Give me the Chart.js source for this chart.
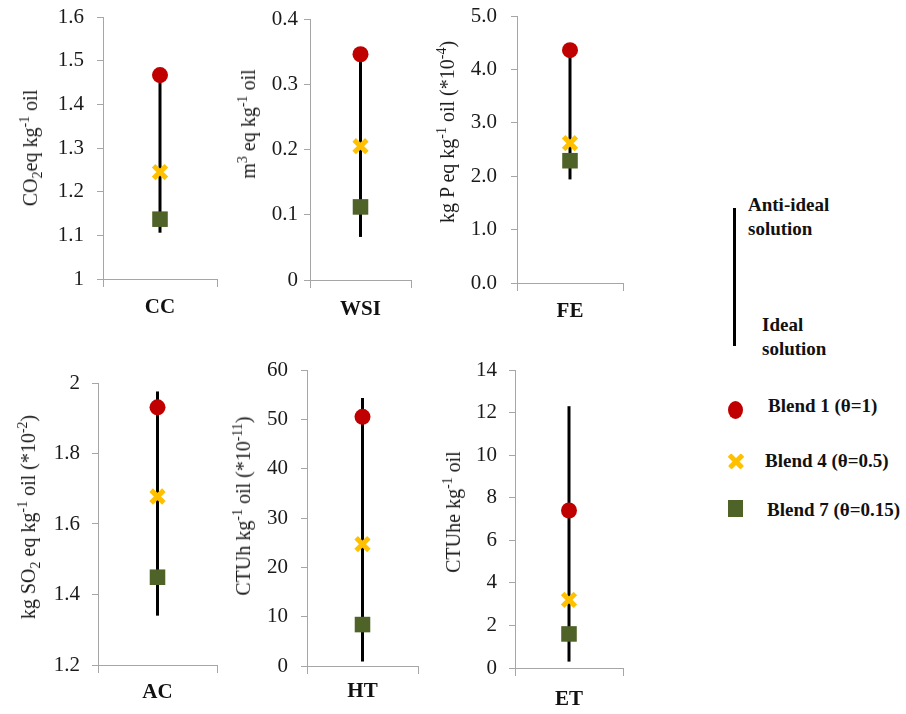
<!DOCTYPE html>
<html>
<head>
<meta charset="utf-8">
<title>Blend impact ranges</title>
<script src="https://cdn.jsdelivr.net/npm/chart.js@4.4.0/dist/chart.umd.min.js"></script>
<style>
  body { margin: 0; background: #fff; }
  #page { position: relative; width: 906px; height: 714px; overflow: hidden;
          font-family: "Liberation Serif", "Times New Roman", serif; color: #1a1a1a; }
  #page canvas { position: absolute; }
  .ytitle { position: absolute; white-space: nowrap; font-size: 20px; line-height: 1;
            transform: translate(-50%, -50%) rotate(-90deg); }
  .ytitle sup, .ytitle sub { font-size: 14px; line-height: 0; }
  .lg { position: absolute; font-weight: bold; font-size: 19px; line-height: 24px; color: #111; white-space: nowrap; }
  .mk { position: absolute; }
  .cross { position: absolute; width: 16px; height: 16px; }
  .cross i { position: absolute; left: -1px; top: 6px; width: 18px; height: 4.5px; background: #FFC000; border-radius: 1px; }
  .cross i:first-child { transform: rotate(45deg); }
  .cross i:last-child { transform: rotate(-45deg); }
</style>
</head>
<body>
<div id="page">
  <!-- legend -->
  <div class="mk" style="left:733px; top:208px; width:3px; height:138px; background:#000;"></div>
  <div class="lg" style="left:748px; top:193px;">Anti-ideal<br>solution</div>
  <div class="lg" style="left:762px; top:313px;">Ideal<br>solution</div>

  <div class="mk" style="left:728px; top:401px; width:15px; height:18px; border-radius:50%; background:#C00000;"></div>
  <div class="lg" style="left:768px; top:394px;">Blend 1 (&theta;=1)</div>

  <div class="cross" style="left:728px; top:453px;"><i></i><i></i></div>
  <div class="lg" style="left:765px; top:449px;">Blend 4 (&theta;=0.5)</div>

  <div class="mk" style="left:728px; top:500px; width:15px; height:17px; background:#4F6228;"></div>
  <div class="lg" style="left:767px; top:498px;">Blend 7 (&theta;=0.15)</div>
</div>

<script>
// impact categories, one small chart each
const categories = ['CC', 'WSI', 'FE', 'AC', 'HT', 'ET'];

// ends of the black range line (ideal = bottom, anti-ideal = top)
const idealSolution     = [1.106, 0.066, 1.94, 1.34, 0.9, 0.3];
const antiIdealSolution = [1.467, 0.346, 4.36, 1.976, 54.3, 12.3];

// blends
const blend1 = [1.467, 0.346, 4.36, 1.931, 50.5, 7.4];
const blend4 = [1.245, 0.205, 2.62, 1.678, 24.7, 3.2];
const blend7 = [1.137, 0.112, 2.29, 1.449, 8.4, 1.6];

// y ticks
const tickValues = [
  [1, 1.1, 1.2, 1.3, 1.4, 1.5, 1.6],
  [0, 0.1, 0.2, 0.3, 0.4],
  [0, 1, 2, 3, 4, 5],
  [1.2, 1.4, 1.6, 1.8, 2],
  [0, 10, 20, 30, 40, 50, 60],
  [0, 2, 4, 6, 8, 10, 12, 14]
];
const tickLabels = [
  ['1', '1.1', '1.2', '1.3', '1.4', '1.5', '1.6'],
  ['0', '0.1', '0.2', '0.3', '0.4'],
  ['0.0', '1.0', '2.0', '3.0', '4.0', '5.0'],
  ['1.2', '1.4', '1.6', '1.8', '2'],
  ['0', '10', '20', '30', '40', '50', '60'],
  ['0', '2', '4', '6', '8', '10', '12', '14']
];
const yTitles = [
  'CO<sub>2</sub>eq kg<sup>-1</sup> oil',
  'm<sup>3</sup> eq kg<sup>-1</sup> oil',
  'kg P eq kg<sup>-1</sup> oil (*10<sup>-4</sup>)',
  'kg SO<sub>2</sub> eq kg<sup>-1</sup> oil (*10<sup>-2</sup>)',
  'CTUh kg<sup>-1</sup> oil (*10<sup>-11</sup>)',
  'CTUhe kg<sup>-1</sup> oil'
];

// where each little plot sits on the page
const panelBox = [
  {axis: 103, right: 217, top: 17,  bottom: 279, labelY: 308, titleX: 30,  titleY: 148, tickPad: 13},
  {axis: 310, right: 411, top: 19,  bottom: 280, labelY: 310, titleX: 248, titleY: 124, tickPad: 6},
  {axis: 517, right: 623, top: 16,  bottom: 283, labelY: 312, titleX: 447, titleY: 132, tickPad: 14},
  {axis: 98,  right: 217, top: 383, bottom: 665, labelY: 693, titleX: 28,  titleY: 517, tickPad: 12},
  {axis: 307, right: 418, top: 370, bottom: 666, labelY: 692, titleX: 243, titleY: 506, tickPad: 13},
  {axis: 515, right: 623, top: 370, bottom: 668, labelY: 700, titleX: 453, titleY: 512, tickPad: 12}
];

const page = document.getElementById('page');
const serif = '"Liberation Serif", "Times New Roman", serif';
const axisGrey = '#a6a6a6';

categories.forEach(function (cat, i) {
  const g = panelBox[i];
  const padL = 70, padT = 14, padR = 6;
  const xAxisH = g.labelY + 10 - g.bottom;

  const canvas = document.createElement('canvas');
  const w = padL + (g.right - g.axis) + padR;
  const h = padT + (g.bottom - g.top) + xAxisH;
  canvas.width = w;
  canvas.height = h;
  canvas.style.width = w + 'px';
  canvas.style.height = h + 'px';
  canvas.style.left = (g.axis - padL) + 'px';
  canvas.style.top = (g.top - padT) + 'px';
  page.appendChild(canvas);

  const title = document.createElement('div');
  title.className = 'ytitle';
  title.style.left = g.titleX + 'px';
  title.style.top = g.titleY + 'px';
  title.innerHTML = yTitles[i];
  page.appendChild(title);

  const ticks = tickValues[i];

  new Chart(canvas.getContext('2d'), {
    type: 'scatter',
    data: {
      datasets: [
        {
          label: 'Blend 1 (θ=1)',
          data: [{x: 0, y: blend1[i]}],
          pointStyle: 'circle', pointRadius: 8,
          backgroundColor: '#C00000', borderColor: '#C00000', borderWidth: 0
        },
        {
          label: 'Blend 4 (θ=0.5)',
          data: [{x: 0, y: blend4[i]}],
          pointStyle: 'crossRot', pointRadius: 9,
          borderColor: '#FFC000', borderWidth: 5
        },
        {
          label: 'Blend 7 (θ=0.15)',
          data: [{x: 0, y: blend7[i]}],
          pointStyle: 'rect', pointRadius: 11,
          backgroundColor: '#4F6228', borderColor: '#4F6228', borderWidth: 0
        },
        {
          label: 'range',
          data: [{x: 0, y: idealSolution[i]}, {x: 0, y: antiIdealSolution[i]}],
          showLine: true, borderColor: '#000', borderWidth: 3, pointRadius: 0
        }
      ]
    },
    options: {
      responsive: false,
      animation: false,
      devicePixelRatio: 1,
      layout: {autoPadding: false, padding: {top: padT, right: padR, left: 0, bottom: 0}},
      plugins: {legend: {display: false}, tooltip: {enabled: false}},
      scales: {
        x: {
          type: 'linear', min: -1, max: 1,
          afterBuildTicks: function (a) { a.ticks = [{value: -1}, {value: 1}]; },
          ticks: {display: false},
          grid: {drawOnChartArea: false, color: axisGrey, tickLength: 8},
          border: {color: axisGrey},
          title: {
            display: true, text: cat, color: '#111', padding: 0,
            font: {family: serif, size: 21, weight: 'bold', lineHeight: 1}
          },
          afterFit: function (a) { a.height = xAxisH; a.paddingLeft = 0; a.paddingRight = 0; }
        },
        y: {
          min: ticks[0], max: ticks[ticks.length - 1],
          afterBuildTicks: function (a) { a.ticks = ticks.map(function (v) { return {value: v}; }); },
          ticks: {
            color: '#1a1a1a', padding: g.tickPad,
            font: {family: serif, size: 21},
            callback: function (v, idx) { return tickLabels[i][idx]; }
          },
          grid: {drawOnChartArea: false, color: axisGrey, tickLength: 6},
          border: {color: axisGrey},
          afterFit: function (a) { a.width = padL; a.paddingTop = 0; a.paddingBottom = 0; }
        }
      }
    }
  });
});
</script>
</body>
</html>
